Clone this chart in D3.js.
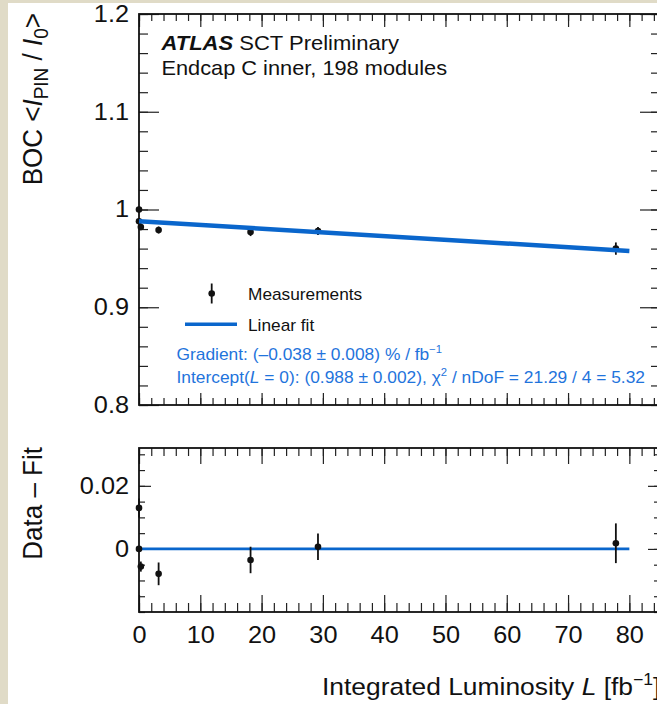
<!DOCTYPE html>
<html><head><meta charset="utf-8">
<script src="https://cdn.jsdelivr.net/npm/d3@7"></script>
<style>
body{margin:0;background:#fff}
svg{display:block}
text{font-family:"Liberation Sans",Arial,Helvetica,sans-serif}
</style>
</head><body>
<svg id="c" width="657" height="704"></svg>
<script>
// ---------------- data ----------------
const lumi       = [0, 0, 0.3, 3.2, 18.2, 29.2, 77.8];          // fb^-1
const bocRatio   = [1.000, 0.988, 0.982, 0.979, 0.977, 0.978, 0.960];
const bocError   = [0.003, 0.0005, 0.0016, 0.0036, 0.0042, 0.0042, 0.0063];
const residuals  = [0.013, 0.000, -0.0056, -0.0079, -0.0035, 0.0007, 0.0018];
const fitRange   = [0, 80];
const fitIntercept = 0.988, fitInterceptErr = 0.002;
const fitGradient  = -0.038, fitGradientErr = 0.008;   // % per fb^-1
const chi2 = 21.29, nDoF = 4;
const xMajorTicks = [0,10,20,30,40,50,60,70,80];
const xTickLabels = ["0","10","20","30","40","50","60","70","80"];
const yTopTicks = [0.8,0.9,1.0,1.1,1.2];
const yTopTickLabels = ["0.8","0.9","1","1.1","1.2"];
const yBotTicks = [0, 0.02];
const yBotTickLabels = ["0","0.02"];

// ---------------- setup ----------------
const W = 657, H = 704, SX = 1.1;
const svg = d3.select("#c");
svg.append("rect").attr("width", W).attr("height", H).attr("fill", "#e0dbc7");
svg.append("rect").attr("x", 8).attr("y", 3).attr("width", W - 8).attr("height", H - 3).attr("fill", "#fff");

const x  = d3.scaleLinear().domain([0, 85]).range([139, 660]);
const yT = d3.scaleLinear().domain([0.8, 1.2]).range([405, 14]);
const yB = d3.scaleLinear().domain([-0.02, 0.032]).range([612, 448]);

const BLUE = "#0a66cc", TBLUE = "#1f74dc";

function axis(gen, scale, vals, size, tr, labels, pad) {
  const a = gen(scale).tickValues(vals).tickSize(size).tickSizeOuter(0).tickPadding(pad || 3);
  a.tickFormat(labels ? ((d, i) => labels[i]) : "");
  const g = svg.append("g").attr("transform", tr).call(a);
  g.select(".domain").remove();
  g.selectAll("line").attr("stroke", "#222").attr("stroke-width", 1.2);
  g.selectAll("text").attr("font-size", 23).attr("fill", "#111")
    .attr("font-family", "Liberation Sans, Arial, sans-serif");
  return g;
}
function stretch(g) {
  g.selectAll("text").each(function () {
    const t = d3.select(this);
    t.attr("transform", `scale(${SX},1)`).attr("x", (+t.attr("x") || 0) / SX);
  });
}
const xMinor = d3.range(0, 85.01, 2);
const yTMinor = d3.range(0.8, 1.2001, 0.02);
const yBMinor = d3.range(-0.02, 0.0321, 0.005);

// ---------- top panel axes ----------
axis(d3.axisTop, x, xMinor, -7, "translate(0,14)");
axis(d3.axisTop, x, xMajorTicks, -13, "translate(0,14)");
axis(d3.axisBottom, x, xMinor, -7, "translate(0,405)");
axis(d3.axisBottom, x, xMajorTicks, -12, "translate(0,405)");
axis(d3.axisLeft, yT, yTMinor, -9, "translate(139,0)");
stretch(axis(d3.axisLeft, yT, yTopTicks, -20, "translate(139,0)", yTopTickLabels, 10));
axis(d3.axisRight, yT, yTMinor, -9, "translate(660,0)");
axis(d3.axisRight, yT, yTopTicks, -20, "translate(660,0)");
svg.append("rect").attr("x", 139).attr("y", 14).attr("width", 521).attr("height", 391)
  .attr("fill", "none").attr("stroke", "#111").attr("stroke-width", 1.8);

// ---------- bottom panel axes ----------
axis(d3.axisTop, x, xMinor, -8, "translate(0,448)");
axis(d3.axisTop, x, xMajorTicks, -16, "translate(0,448)");
axis(d3.axisBottom, x, xMinor, -9, "translate(0,612)");
stretch(axis(d3.axisBottom, x, xMajorTicks, -17, "translate(0,612)", xTickLabels, 15));
axis(d3.axisLeft, yB, yBMinor, -6, "translate(139,0)");
stretch(axis(d3.axisLeft, yB, yBotTicks, -12, "translate(139,0)", yBotTickLabels, 10));
axis(d3.axisRight, yB, yBMinor, -6, "translate(660,0)");
axis(d3.axisRight, yB, yBotTicks, -12, "translate(660,0)");
svg.append("rect").attr("x", 139).attr("y", 448).attr("width", 521).attr("height", 164)
  .attr("fill", "none").attr("stroke", "#111").attr("stroke-width", 1.8);

// ---------- data: top panel ----------
const pts = lumi.map((L, i) => ({ L, v: bocRatio[i], e: bocError[i], r: residuals[i] }));
const gTop = svg.append("g");
gTop.selectAll("line.err").data(pts).join("line").attr("class", "err")
  .attr("x1", d => x(d.L)).attr("x2", d => x(d.L))
  .attr("y1", d => yT(d.v - d.e)).attr("y2", d => yT(d.v + d.e))
  .attr("stroke", "#111").attr("stroke-width", 1.8);
gTop.selectAll("circle").data(pts).join("circle")
  .attr("cx", d => x(d.L)).attr("cy", d => yT(d.v)).attr("r", 3.3).attr("fill", "#111");
const fitY = L => fitIntercept + fitGradient / 100 * L;
svg.append("line")
  .attr("x1", x(fitRange[0])).attr("x2", x(fitRange[1]))
  .attr("y1", yT(fitY(fitRange[0]))).attr("y2", yT(fitY(fitRange[1])))
  .attr("stroke", BLUE).attr("stroke-width", 4.5);

// ---------- data: bottom panel ----------
svg.append("line")
  .attr("x1", x(fitRange[0])).attr("x2", x(fitRange[1]))
  .attr("y1", yB(0)).attr("y2", yB(0))
  .attr("stroke", BLUE).attr("stroke-width", 2.6);
const gBot = svg.append("g");
gBot.selectAll("line.err").data(pts).join("line").attr("class", "err")
  .attr("x1", d => x(d.L)).attr("x2", d => x(d.L))
  .attr("y1", d => yB(d.r - d.e)).attr("y2", d => yB(d.r + d.e))
  .attr("stroke", "#111").attr("stroke-width", 1.8);
gBot.selectAll("circle").data(pts).join("circle")
  .attr("cx", d => x(d.L)).attr("cy", d => yB(d.r)).attr("r", 3.3).attr("fill", "#111");

// ---------- texts ----------
function htext(xp, yp, size, fill, anchor) {
  return svg.append("text").attr("transform", `translate(${xp},${yp}) scale(${SX},1)`)
    .attr("font-size", size).attr("fill", fill).attr("text-anchor", anchor || "start");
}
let t = htext(161.5, 49.5, 20, "#111");
t.append("tspan").attr("font-weight", "bold").attr("font-style", "italic").text("ATLAS");
t.append("tspan").text(" SCT Preliminary");
htext(161.5, 75, 19.8, "#111").text("Endcap C inner, 198 modules");

// legend
svg.append("line").attr("x1", 211.7).attr("x2", 211.7).attr("y1", 283.5).attr("y2", 303.5)
  .attr("stroke", "#111").attr("stroke-width", 1.8);
svg.append("circle").attr("cx", 211.7).attr("cy", 293.5).attr("r", 3.3).attr("fill", "#111");
htext(248, 300, 15.7, "#111").text("Measurements");
svg.append("line").attr("x1", 185).attr("x2", 237).attr("y1", 324.3).attr("y2", 324.3)
  .attr("stroke", BLUE).attr("stroke-width", 3.4);
htext(248, 331, 15.7, "#111").text("Linear fit");

// fit results
const fs = 15.8;
t = htext(176.5, 360, fs, TBLUE);
t.append("tspan").text(`Gradient: (\u2013${Math.abs(fitGradient).toFixed(3)} \u00b1 ${fitGradientErr.toFixed(3)}) % / fb`);
t.append("tspan").attr("font-size", fs * 0.65).attr("dy", -fs * 0.42).text("\u22121");
t = htext(176.5, 383, fs, TBLUE);
t.append("tspan").text("Intercept(");
t.append("tspan").attr("font-style", "italic").text("L");
t.append("tspan").text(` = 0): (${fitIntercept.toFixed(3)} \u00b1 ${fitInterceptErr.toFixed(3)}), \u03c7`);
t.append("tspan").attr("font-size", fs * 0.65).attr("dy", -fs * 0.42).text("2");
t.append("tspan").attr("dy", fs * 0.42).text(` / nDoF = ${chi2.toFixed(2)} / ${nDoF} = ${(chi2 / nDoF).toFixed(2)}`);

// axis titles
let yl = svg.append("text").attr("transform", "translate(42,13) rotate(-90) scale(1,1.04)")
  .attr("text-anchor", "end").attr("font-size", 26).attr("fill", "#111");
yl.append("tspan").text("BOC <");
yl.append("tspan").attr("font-style", "italic").text("I");
yl.append("tspan").attr("font-size", 19).attr("dy", 5.5).text("PIN");
yl.append("tspan").attr("dy", -5.5).text(" / ");
yl.append("tspan").attr("font-style", "italic").text("I");
yl.append("tspan").attr("font-size", 19).attr("dy", 5.5).text("0");
yl.append("tspan").attr("dy", -5.5).text(">");

svg.append("text").attr("transform", "translate(42,447) rotate(-90) scale(1,1.04)")
  .attr("text-anchor", "end").attr("font-size", 26).attr("fill", "#111").text("Data \u2013 Fit");

t = htext(322, 695, 24, "#111");
t.append("tspan").text("Integrated Luminosity ");
t.append("tspan").attr("font-style", "italic").text("L");
t.append("tspan").text(" [fb");
t.append("tspan").attr("font-size", 16).attr("dy", -10).text("\u22121");
t.append("tspan").attr("dy", 10).text("]");
</script>
</body></html>
